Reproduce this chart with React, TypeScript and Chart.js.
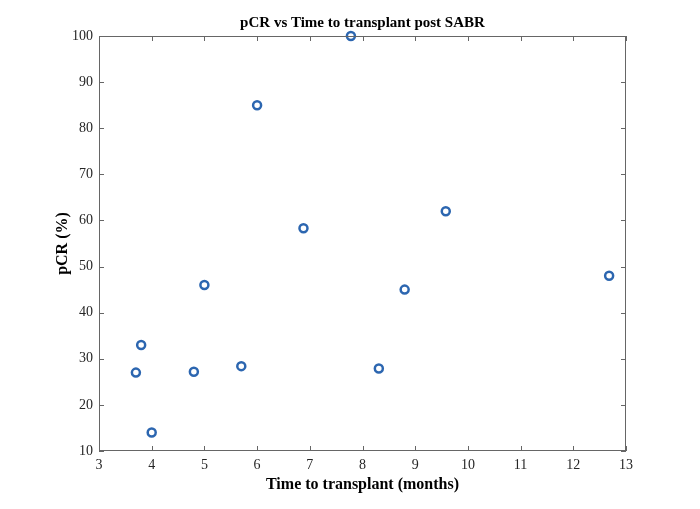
import React, { useEffect, useRef } from "react";
import { Chart, registerables } from "chart.js";
import type { Plugin } from "chart.js";

Chart.register(...registerables);

const months = [3.7, 3.8, 4.0, 4.8, 5.0, 5.7, 6.0, 6.88, 7.78, 8.31, 8.8, 9.58, 12.68];
const pcr = [27, 33, 14, 27.2, 46, 28.4, 85, 58.3, 100, 27.9, 45, 62, 48];
const xTicks = [3, 4, 5, 6, 7, 8, 9, 10, 11, 12, 13];
const yTicks = [10, 20, 30, 40, 50, 60, 70, 80, 90, 100];

const INK = "#262626";
const SERIF = "'Liberation Serif', 'Times New Roman', serif";

// matlab style box with inward ticks and a title above the plot
const boxPlugin: Plugin<"scatter"> = {
  id: "matlabBox",
  afterDatasetsDraw(chart) {
    const { ctx, chartArea: a, scales } = chart;
    const len = 5;
    ctx.save();
    ctx.strokeStyle = "#666";
    ctx.lineWidth = 1;
    ctx.strokeRect(a.left + 0.5, a.top + 0.5, a.right - a.left - 1, a.bottom - a.top - 1);
    ctx.beginPath();
    xTicks.forEach((v) => {
      const px = Math.round(scales.x.getPixelForValue(v)) + 0.5;
      ctx.moveTo(px, a.bottom);
      ctx.lineTo(px, a.bottom - len);
      ctx.moveTo(px, a.top);
      ctx.lineTo(px, a.top + len);
    });
    yTicks.forEach((v) => {
      const py = Math.round(scales.y.getPixelForValue(v)) + 0.5;
      ctx.moveTo(a.left, py);
      ctx.lineTo(a.left + len, py);
      ctx.moveTo(a.right, py);
      ctx.lineTo(a.right - len, py);
    });
    ctx.stroke();
    ctx.fillStyle = "#000";
    ctx.font = `bold 15px ${SERIF}`;
    ctx.textAlign = "center";
    ctx.textBaseline = "middle";
    ctx.fillText("pCR vs Time to transplant post SABR", (a.left + a.right) / 2, 23);
    ctx.restore();
  },
};

export default function App() {
  const canvasRef = useRef<HTMLCanvasElement>(null);

  useEffect(() => {
    document.body.style.margin = "0";
    const ctx = canvasRef.current?.getContext("2d");
    if (!ctx) return;

    const chart = new Chart(ctx, {
      type: "scatter",
      data: {
        datasets: [
          {
            data: months.map((m, i) => ({ x: m, y: pcr[i] })),
            pointStyle: "circle",
            pointRadius: 4,
            pointBorderWidth: 2.5,
            pointBorderColor: "#2c66b0",
            pointBackgroundColor: "rgba(0,0,0,0)",
            clip: false,
          },
        ],
      },
      options: {
        animation: false,
        responsive: false,
        layout: { padding: { top: 36, right: 74, left: 0, bottom: 0 } },
        plugins: {
          legend: { display: false },
          tooltip: { enabled: false },
        },
        scales: {
          x: {
            type: "linear",
            min: 3,
            max: 13,
            afterFit: (s) => {
              s.height = 58;
            },
            afterBuildTicks: (s) => {
              s.ticks = xTicks.map((v) => ({ value: v }));
            },
            grid: { display: false, drawTicks: false },
            border: { display: false },
            ticks: {
              padding: 6,
              color: INK,
              font: { family: SERIF, size: 14 },
            },
            title: {
              display: true,
              text: "Time to transplant (months)",
              color: "#000",
              font: { family: SERIF, size: 16, weight: "bold" },
              padding: { top: 0, bottom: 15 },
            },
          },
          y: {
            type: "linear",
            min: 10,
            max: 100,
            afterFit: (s) => {
              s.width = 99;
            },
            afterBuildTicks: (s) => {
              s.ticks = yTicks.map((v) => ({ value: v }));
            },
            grid: { display: false, drawTicks: false },
            border: { display: false },
            ticks: {
              padding: 6,
              color: INK,
              font: { family: SERIF, size: 14 },
            },
            title: {
              display: true,
              text: "pCR (%)",
              color: "#000",
              font: { family: SERIF, size: 16, weight: "bold" },
              padding: { top: 53, bottom: 0 },
            },
          },
        },
      },
      plugins: [boxPlugin],
    });

    return () => {
      chart.destroy();
    };
  }, []);

  return <canvas ref={canvasRef} width={700} height={509} />;
}
